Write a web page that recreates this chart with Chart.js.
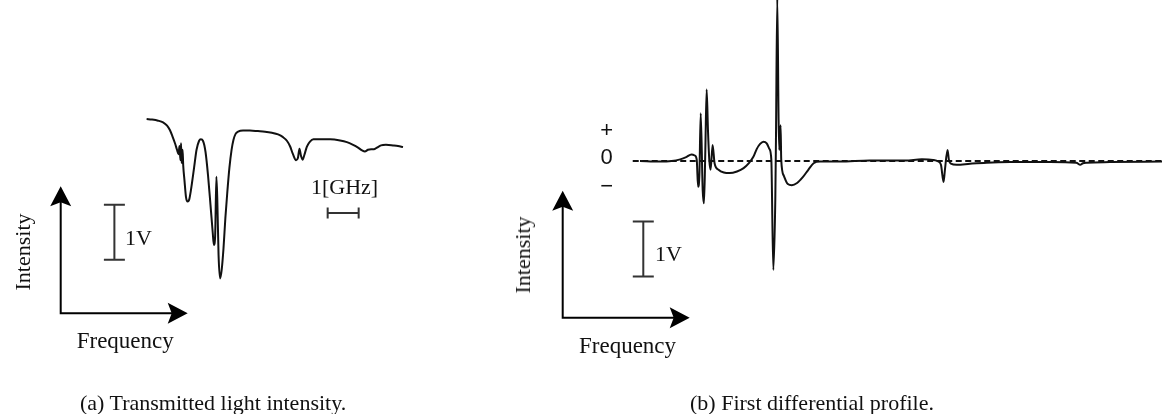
<!DOCTYPE html>
<html>
<head>
<meta charset="utf-8">
<script src="https://cdn.jsdelivr.net/npm/chart.js@4.4.1/dist/chart.umd.min.js"></script>
<style>
  html, body { margin: 0; padding: 0; background: #fff; }
  #page { position: relative; width: 1162px; height: 414px; overflow: hidden;
          font-family: "Liberation Serif", "Times New Roman", serif; font-size: 22px; color: #111; }
  canvas { position: absolute; top: 0; }
  .lbl { position: absolute; line-height: 1; white-space: nowrap; }
  .big { font-size: 23px; }
  .rot { transform: translate(-50%, -50%) rotate(-90deg); }
  .sign { font-family: "Liberation Sans", Arial, sans-serif; transform: translate(-50%, -50%); }
</style>
</head>
<body>
<div id="page">
  <canvas id="transChart" width="480" height="414" style="left:0;width:480px;height:414px"></canvas>
  <canvas id="diffChart" width="682" height="414" style="left:480px;width:682px;height:414px"></canvas>

  <span class="lbl rot" style="left:22.5px;top:251.7px">Intensity</span>
  <span class="lbl" style="left:125px;top:226.6px">1V</span>
  <span class="lbl" style="left:311px;top:175.6px">1[GHz]</span>
  <span class="lbl big" style="left:76.7px;top:329px">Frequency</span>
  <span class="lbl" style="left:80px;top:391.6px">(a) Transmitted light intensity.</span>

  <span class="lbl sign" style="left:606.7px;top:130px">+</span>
  <span class="lbl sign" style="left:606.7px;top:156.7px">0</span>
  <span class="lbl sign" style="left:606.7px;top:186px">&minus;</span>
  <span class="lbl rot" style="left:522.6px;top:255px">Intensity</span>
  <span class="lbl" style="left:655px;top:243.3px">1V</span>
  <span class="lbl big" style="left:579px;top:334px">Frequency</span>
  <span class="lbl" style="left:690px;top:391.6px">(b) First differential profile.</span>
</div>

<script>
// (a) transmitted light intensity: relative frequency [GHz] vs detector voltage [V]
const transFreq = [
  0.02, 0.19, 0.39, 0.55, 0.68, 0.77, 0.85, 0.94, 1.00, 1.05,
  1.08, 1.11, 1.13, 1.15, 1.18, 1.20, 1.24, 1.29, 1.34, 1.39,
  1.45, 1.55, 1.63, 1.71, 1.77, 1.84, 1.92, 2.00, 2.08, 2.15,
  2.19, 2.23, 2.27, 2.30, 2.34, 2.39, 2.44, 2.50, 2.56, 2.62,
  2.69, 2.76, 2.82, 2.89, 2.97, 3.13, 3.35, 3.61, 3.84, 4.06,
  4.26, 4.42, 4.55, 4.65, 4.74, 4.84, 4.90, 4.95, 5.00, 5.05,
  5.11, 5.19, 5.29, 5.40, 5.61, 5.94, 6.26, 6.48, 6.68, 6.84,
  6.97, 7.06, 7.16, 7.26, 7.35, 7.45, 7.58, 7.74, 7.97, 8.13,
  8.29
];
const transVolt = [
  3.00, 2.99, 2.97, 2.94, 2.88, 2.80, 2.69, 2.55, 2.44, 2.36,
  2.51, 2.25, 2.56, 2.20, 2.44, 2.16, 1.89, 1.58, 1.50, 1.53,
  1.71, 2.11, 2.44, 2.60, 2.63, 2.60, 2.40, 1.98, 1.44, 0.95,
  0.71, 0.87, 1.95, 1.53, 0.53, 0.10, 0.25, 0.65, 1.20, 1.65,
  2.11, 2.44, 2.62, 2.73, 2.77, 2.79, 2.79, 2.78, 2.77, 2.75,
  2.72, 2.67, 2.60, 2.50, 2.36, 2.25, 2.29, 2.46, 2.33, 2.26,
  2.35, 2.50, 2.59, 2.63, 2.63, 2.63, 2.61, 2.58, 2.53, 2.48,
  2.43, 2.41, 2.44, 2.45, 2.45, 2.48, 2.52, 2.53, 2.52, 2.51,
  2.49
];

// (b) first differential profile: relative frequency [GHz] vs derivative signal [V]
const diffFreq = [
  0.00, 0.30, 0.48, 0.61, 0.70, 0.78, 0.83, 0.86, 0.88, 0.90,
  0.92, 0.95, 0.97, 0.99, 1.01, 1.03, 1.05, 1.07, 1.10, 1.13,
  1.19, 1.27, 1.36, 1.47, 1.57, 1.65, 1.72, 1.77, 1.82, 1.87,
  1.92, 1.96, 1.99, 2.02, 2.05, 2.06, 2.08, 2.10, 2.11, 2.13,
  2.14, 2.18, 2.24, 2.30, 2.38, 2.47, 2.55, 2.63, 2.73, 3.03,
  3.48, 4.02, 4.27, 4.44, 4.52, 4.56, 4.60, 4.62, 4.66, 4.68,
  4.71, 4.80, 5.00, 5.25, 5.61, 6.21, 6.61, 6.67, 6.71, 6.77,
  7.12, 7.91
];
const diffVolt = [
  0.00, -0.01, 0.00, 0.03, 0.07, 0.12, 0.10, 0.02, -0.47, -0.25,
  0.87, -0.53, -0.77, 0.20, 1.30, 0.56, 0.02, -0.16, 0.29, -0.04,
  -0.16, -0.21, -0.22, -0.19, -0.13, -0.04, 0.08, 0.22, 0.31, 0.35,
  0.32, 0.22, 0.02, -1.98, -0.71, 0.38, 2.95, 0.75, 0.20, 0.65,
  0.02, -0.27, -0.42, -0.44, -0.40, -0.29, -0.16, -0.04, -0.01, -0.01,
  0.01, 0.01, 0.03, 0.02, -0.01, -0.07, -0.38, -0.16, 0.20, 0.02,
  -0.05, -0.07, -0.05, -0.03, -0.02, -0.02, -0.03, -0.07, -0.04, -0.03,
  -0.02, -0.01
];

// zero reference for the derivative trace
const zeroFreq = [-0.11, 7.91];
const zeroVolt = [0, 0];

const toPoints = (xs, ys) => xs.map((x, i) => ({ x, y: ys[i] }));

// filled arrow head with a slight notch at the back
function arrowHead(ctx, tx, ty, dx, dy) {
  const L = 20, W = 10.5, N = 4;
  const bx = tx - dx * L, by = ty - dy * L;
  const px = -dy, py = dx;
  ctx.beginPath();
  ctx.moveTo(tx, ty);
  ctx.lineTo(bx + px * W, by + py * W);
  ctx.lineTo(tx - dx * (L - N), ty - dy * (L - N));
  ctx.lineTo(bx - px * W, by - py * W);
  ctx.closePath();
  ctx.fill();
}

// draws the intensity/frequency arrows and the 1V / 1GHz scale bars
const decorPlugin = {
  id: 'decor',
  afterDatasetsDraw(chart, args, opts) {
    const ctx = chart.ctx;
    const xs = chart.scales.x, ys = chart.scales.y;
    ctx.save();

    const a = opts.axes;
    ctx.strokeStyle = '#000';
    ctx.fillStyle = '#000';
    ctx.lineWidth = 2;
    ctx.beginPath();
    ctx.moveTo(a.x, a.y - a.len + 14);
    ctx.lineTo(a.x, a.y);
    ctx.lineTo(a.x + a.len - 14, a.y);
    ctx.stroke();
    arrowHead(ctx, a.x, a.y - a.len, 0, -1);
    arrowHead(ctx, a.x + a.len, a.y, 1, 0);

    ctx.strokeStyle = '#333';
    ctx.lineWidth = 2;
    (opts.voltBars || []).forEach(b => {
      const x = xs.getPixelForValue(b.x);
      const y0 = ys.getPixelForValue(b.top);
      const y1 = ys.getPixelForValue(b.top - b.volts);
      ctx.beginPath();
      ctx.moveTo(x, y0); ctx.lineTo(x, y1);
      ctx.moveTo(x - 10.5, y0); ctx.lineTo(x + 10.5, y0);
      ctx.moveTo(x - 10.5, y1); ctx.lineTo(x + 10.5, y1);
      ctx.stroke();
    });
    (opts.freqBars || []).forEach(b => {
      const x0 = xs.getPixelForValue(b.x);
      const x1 = xs.getPixelForValue(b.x + b.ghz);
      const y = ys.getPixelForValue(b.y);
      ctx.beginPath();
      ctx.moveTo(x0, y); ctx.lineTo(x1, y);
      ctx.moveTo(x0, y - 5.5); ctx.lineTo(x0, y + 5.5);
      ctx.moveTo(x1, y - 5.5); ctx.lineTo(x1, y + 5.5);
      ctx.stroke();
    });
    ctx.restore();
  }
};

function baseOptions(xMin, xMax, yMin, yMax, decor) {
  return {
    responsive: false,
    animation: false,
    events: [],
    layout: { padding: 0 },
    elements: { point: { radius: 0 } },
    scales: {
      x: { type: 'linear', display: false, min: xMin, max: xMax },
      y: { type: 'linear', display: false, min: yMin, max: yMax }
    },
    plugins: {
      legend: { display: false },
      tooltip: { enabled: false },
      decor: decor
    }
  };
}

new Chart(document.getElementById('transChart'), {
  type: 'line',
  data: {
    datasets: [{
      data: toPoints(transFreq, transVolt),
      borderColor: '#111',
      borderWidth: 2,
      cubicInterpolationMode: 'monotone',
      fill: false
    }]
  },
  options: baseOptions(-4.71, 10.774, -2.364, 5.164, {
    axes: { x: 60.7, y: 313.3, len: 127 },
    voltBars: [{ x: -1.02, top: 1.44, volts: 1 }],
    freqBars: [{ x: 5.86, y: 1.29, ghz: 1 }]
  }),
  plugins: [decorPlugin]
});

new Chart(document.getElementById('diffChart'), {
  type: 'line',
  data: {
    datasets: [{
      data: toPoints(diffFreq, diffVolt),
      borderColor: '#111',
      borderWidth: 2,
      cubicInterpolationMode: 'monotone',
      fill: false
    }, {
      data: toPoints(zeroFreq, zeroVolt),
      borderColor: '#111',
      borderWidth: 1.8,
      borderDash: [6, 3.5],
      fill: false
    }]
  },
  options: baseOptions(-2.424, 7.909, -4.6, 2.927, {
    axes: { x: 82.7, y: 317.7, len: 127 },
    voltBars: [{ x: 0.05, top: -1.10, volts: 1 }]
  }),
  plugins: [decorPlugin]
});
</script>
</body>
</html>
